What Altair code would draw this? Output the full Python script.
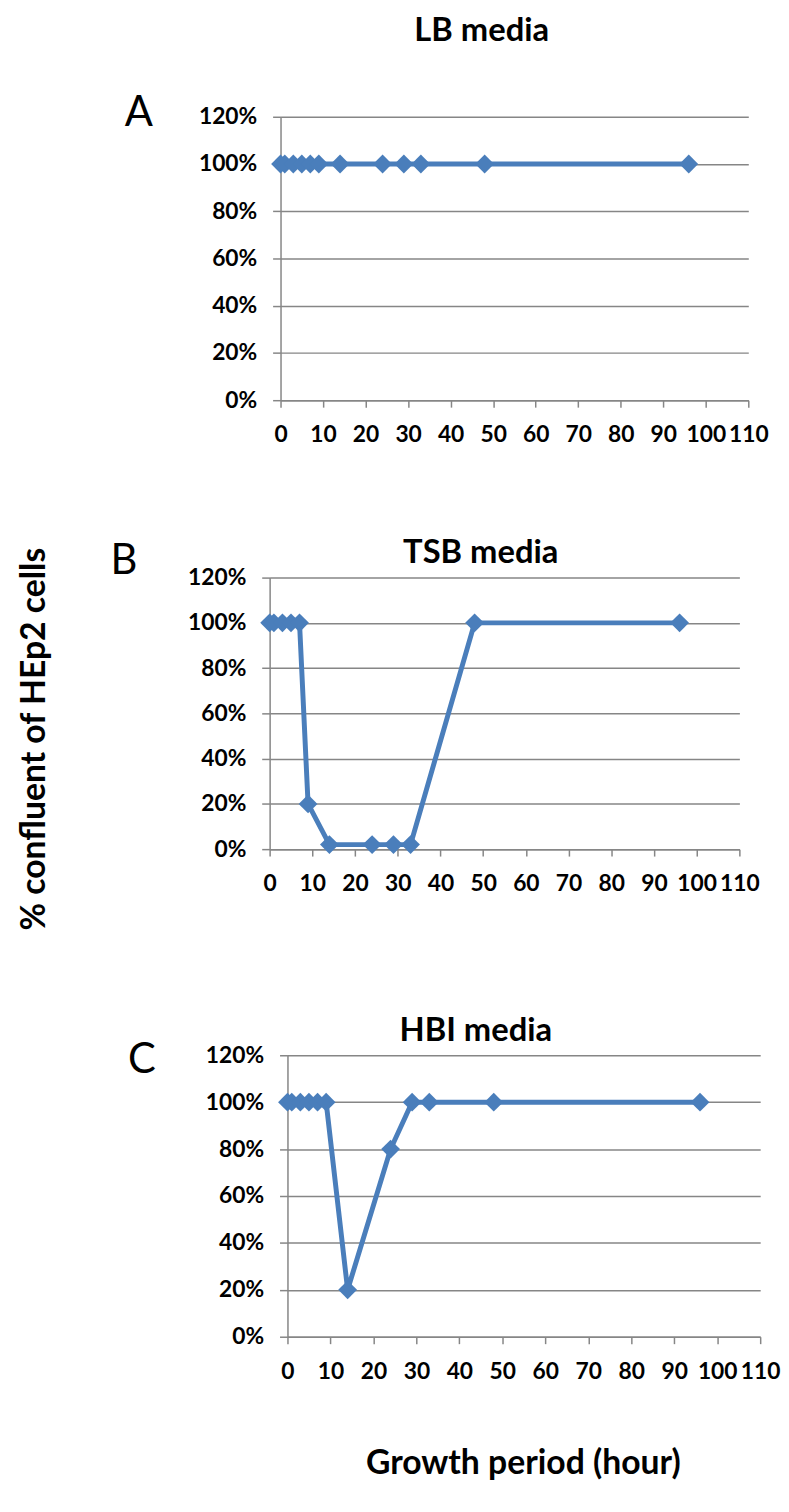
import altair as alt
import pandas as pd

# ---------------- data ----------------
times = [0, 1, 3, 5, 7, 9, 14, 24, 29, 33, 48, 96]
lb_media = [1.00, 1.00, 1.00, 1.00, 1.00, 1.00, 1.00, 1.00, 1.00, 1.00, 1.00, 1.00]
tsb_media = [1.00, 1.00, 1.00, 1.00, 1.00, 0.20, 0.02, 0.02, 0.02, 0.02, 1.00, 1.00]
hbi_media = [1.00, 1.00, 1.00, 1.00, 1.00, 1.00, 0.20, 0.80, 1.00, 1.00, 1.00, 1.00]

titles = ["LB media", "TSB media", "HBI media"]
letters = ["A", "B", "C"]
x_ticks = [0, 10, 20, 30, 40, 50, 60, 70, 80, 90, 100, 110]
y_ticks = [0, 0.2, 0.4, 0.6, 0.8, 1.0, 1.2]
y_title = "% confluent of HEp2 cells"
x_title = "Growth period (hour)"

BLUE = "#4A7EBB"
GREY = "#868686"
FONT = "Lato"
ORIGIN = 272  # common left edge of the panel groups (page px)

# panel layout (page px): dy is a per-row vertical correction
geo = [
    dict(left=283, right=755, top=116, h=286, rt=13, rb=470, dy=0,
         letter=(140, 125), title=(486, 40)),
    dict(left=272, right=746, top=577, h=274, rt=470, rb=960, dy=4,
         letter=(125, 573), title=(485, 562)),
    dict(left=290, right=767, top=1054, h=284, rt=960, rb=1505, dy=9,
         letter=(143, 1072), title=(480, 1040)),
]


def panel(values, i):
    g = geo[i]
    d0 = g["left"] - ORIGIN
    d1 = g["right"] - ORIGIN
    top = g["top"] + g["dy"]
    df = pd.DataFrame({"t": times, "v": values})
    base = alt.Chart(df).encode(
        x=alt.X("t:Q", scale=alt.Scale(domain=[0, 110], nice=False, zero=False, range=[d0, d1]),
                axis=alt.Axis(values=x_ticks, title=None, grid=False, format="d",
                              tickSize=7, labelPadding=17, labelFlush=False)),
        y=alt.Y("v:Q", scale=alt.Scale(domain=[0, 1.2], nice=False),
                axis=alt.Axis(values=y_ticks, title=None, grid=True, format=".0%",
                              tickSize=8, labelPadding=16, offset=-d0)),
    )
    line = base.mark_line(color=BLUE, strokeWidth=5)
    pts = base.mark_point(shape="diamond", filled=True, size=360, opacity=1, color=BLUE)

    tdf = pd.DataFrame({"label": [titles[i]]})
    title = alt.Chart(tdf).mark_text(font=FONT, fontWeight="bold", fontSize=33,
                                     align="center", baseline="alphabetic",
                                     color="black").encode(
        x=alt.value(g["title"][0] - ORIGIN), y=alt.value(g["title"][1] - g["top"]),
        text="label:N")

    ldf = pd.DataFrame({"label": [letters[i]]})
    letter = alt.Chart(ldf).mark_text(font=FONT, fontWeight="normal", fontSize=42,
                                      align="center", baseline="alphabetic",
                                      color="black").encode(
        x=alt.value(g["letter"][0] - ORIGIN), y=alt.value(g["letter"][1] - g["top"]),
        text="label:N")

    adf = pd.DataFrame({"a": [0]})
    anchor = alt.Chart(adf).mark_rule(opacity=0, strokeWidth=1).encode(
        x=alt.value(8 - ORIGIN),
        y=alt.value(g["rt"] - top),
        y2=alt.value(g["rb"] - top),
    )
    layers = [line, pts, title, letter, anchor]

    if i == 1:
        ydf = pd.DataFrame({"label": [y_title]})
        layers.append(alt.Chart(ydf).mark_text(font=FONT, fontWeight="bold", fontSize=34,
                                               align="center", baseline="middle", angle=270,
                                               color="black").encode(
            x=alt.value(35 - ORIGIN), y=alt.value(740 - g["top"]), text="label:N"))
    if i == 2:
        xdf = pd.DataFrame({"label": [x_title]})
        layers.append(alt.Chart(xdf).mark_text(font=FONT, fontWeight="bold", fontSize=34,
                                               align="center", baseline="alphabetic",
                                               color="black").encode(
            x=alt.value(528 - ORIGIN), y=alt.value(1477 - g["top"]), text="label:N"))

    return alt.layer(*layers).properties(width=d1, height=g["h"])


chart = alt.vconcat(
    panel(lb_media, 0), panel(tsb_media, 1), panel(hbi_media, 2), spacing=0
).properties(padding={"left": 0, "top": 0, "right": 0, "bottom": 0}).configure_view(stroke=None).configure_axis(
    domainColor=GREY, domainWidth=1.5, tickColor=GREY, tickWidth=1.5,
    gridColor=GREY, gridWidth=1.5, labelFont=FONT, labelFontWeight="bold",
    labelFontSize=23, labelColor="black",
)

chart.save("out.html", embed_options={"renderer": "svg", "actions": False})
